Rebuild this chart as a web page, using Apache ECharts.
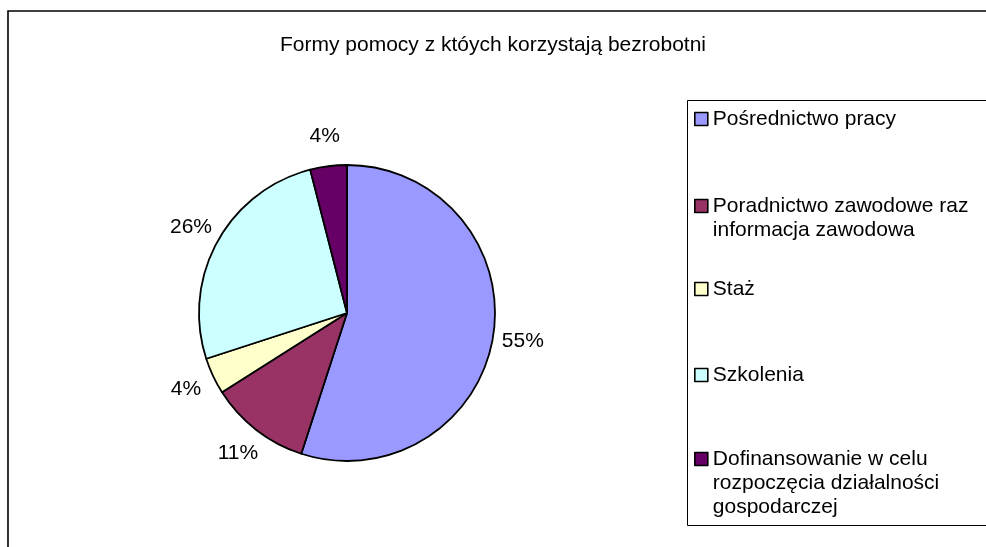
<!DOCTYPE html>
<html>
<head>
<meta charset="utf-8">
<script src="https://cdn.jsdelivr.net/npm/echarts@6/dist/echarts.min.js"></script>
<style>html,body{margin:0;padding:0;background:#fff}#c{width:986px;height:547px}</style>
</head>
<body>
<div id="c"></div>
<script>
var titleText = 'Formy pomocy z któych korzystają bezrobotni';
var categories = [
  'Pośrednictwo pracy',
  'Poradnictwo zawodowe raz informacja zawodowa',
  'Staż',
  'Szkolenia',
  'Dofinansowanie w celu rozpoczęcia działalności gospodarczej'
];
var values = [55, 11, 4, 26, 4];
var colors = ['#9999FF', '#993366', '#FFFFCC', '#CCFFFF', '#660066'];

var FONT = '"Liberation Sans", Arial, sans-serif';
var FS = 21;
var LH = 24;
var WRAP_W = 268;
var legendIconCenters = [119, 206, 289, 375, 459];

// word-wrap a legend name to the width available in the legend box
var ctx = document.createElement('canvas').getContext('2d');
ctx.font = FS + 'px ' + FONT;
function wrap(text) {
  var words = text.split(' '), lines = [], cur = '';
  words.forEach(function (w) {
    var t = cur ? cur + ' ' + w : w;
    if (cur && ctx.measureText(t).width > WRAP_W) { lines.push(cur); cur = w; }
    else cur = t;
  });
  if (cur) lines.push(cur);
  return lines;
}

var pieData = categories.map(function (n, i) {
  return { name: n, value: values[i], itemStyle: { color: colors[i] } };
});

var legends = categories.map(function (n, i) {
  var nLines = wrap(n).length;
  return {
    data: [n],
    orient: 'vertical',
    left: 694,
    top: legendIconCenters[i] - (2 * nLines - 1) * LH / 2,
    padding: 0,
    icon: 'rect',
    itemWidth: 13,
    itemHeight: 13,
    itemGap: 0,
    selectedMode: false,
    itemStyle: { borderColor: '#000', borderWidth: 1.6 },
    formatter: function (name) {
      var lines = wrap(name);
      var s = lines.map(function (l) { return '{t|' + l + '}'; }).join('\n');
      if (lines.length > 1) s = '{p' + (lines.length - 1) + '| }\n' + s;
      return s;
    },
    textStyle: {
      fontFamily: FONT, fontSize: FS, color: '#000', lineHeight: LH,
      rich: {
        t: { fontFamily: FONT, fontSize: FS, color: '#000', lineHeight: LH },
        p1: { fontSize: 2, lineHeight: LH, height: LH },
        p2: { fontSize: 2, lineHeight: 2 * LH, height: 2 * LH }
      }
    }
  };
});

var chart = echarts.init(document.getElementById('c'));
chart.setOption({
  animation: false,
  backgroundColor: '#fff',
  title: {
    text: titleText,
    left: 'center',
    top: 30,
    textStyle: { fontFamily: FONT, fontSize: FS, fontWeight: 'normal', color: '#000' }
  },
  graphic: [
    { type: 'rect', z: -1, shape: { x: 8, y: 11, width: 1200, height: 700 },
      style: { fill: 'none', stroke: '#000', lineWidth: 1.6 } },
    { type: 'rect', z: -1, shape: { x: 687.5, y: 100.5, width: 400, height: 425 },
      style: { fill: 'none', stroke: '#000', lineWidth: 1 } }
  ],
  legend: legends,
  series: [
    {
      type: 'pie',
      center: [347, 313],
      radius: [0, 148],
      startAngle: 90,
      clockwise: true,
      avoidLabelOverlap: false,
      label: { show: false },
      labelLine: { show: false },
      emphasis: { disabled: true },
      itemStyle: { borderColor: '#000', borderWidth: 1.8 },
      data: pieData
    },
    {
      type: 'pie',
      silent: true,
      center: [347, 313],
      radius: [166, 184],
      startAngle: 90,
      clockwise: true,
      avoidLabelOverlap: false,
      emphasis: { disabled: true },
      itemStyle: { color: 'rgba(0,0,0,0)', borderWidth: 0 },
      label: {
        show: true, position: 'inside', rotate: 0,
        fontFamily: FONT, fontSize: FS, color: '#000',
        formatter: function (p) { return p.value + '%'; }
      },
      labelLine: { show: false },
      data: categories.map(function (n, i) { return { name: n, value: values[i] }; })
    }
  ]
});
</script>
</body>
</html>
